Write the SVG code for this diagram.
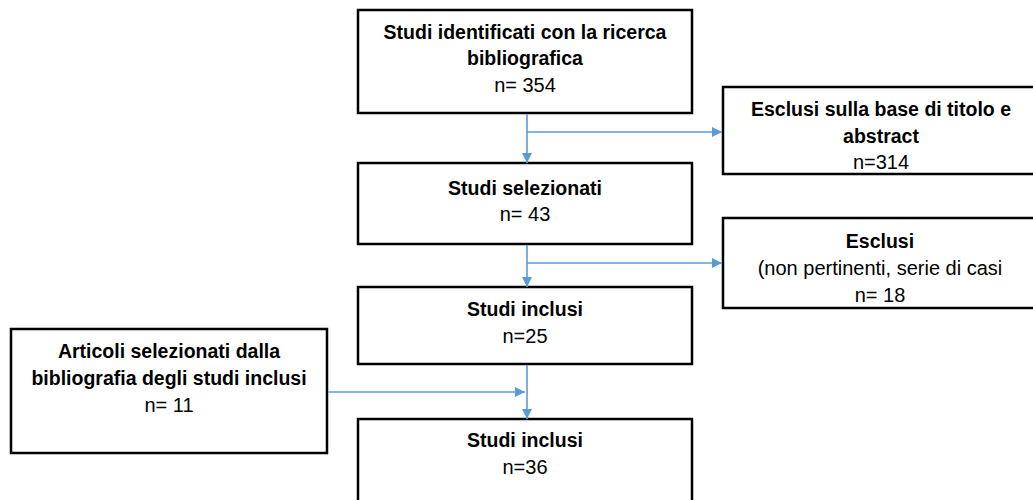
<svg xmlns="http://www.w3.org/2000/svg" width="1033" height="500" viewBox="0 0 1033 500">
  <style>
    .box { fill: #ffffff; stroke: #000000; stroke-width: 2.5; }
    .b { font-family: "Liberation Sans", Arial, sans-serif; font-weight: bold; font-size: 19.5px; fill: #000; text-anchor: middle; }
    .r { font-family: "Liberation Sans", Arial, sans-serif; font-size: 20px; fill: #000; text-anchor: middle; }
    .c { fill: none; stroke: #5B9BD5; stroke-width: 1.6; }
  </style>
  <defs>
    <marker id="ah" viewBox="0 0 10 10" refX="10" refY="5" markerWidth="10" markerHeight="10" markerUnits="userSpaceOnUse" orient="auto">
      <path d="M0,0 L10,5 L0,10 z" fill="#5B9BD5"/>
    </marker>
  </defs>
  <rect width="1033" height="500" fill="#ffffff"/>

  <g id="node-identificati">
    <rect class="box" x="358" y="10" width="334" height="103"/>
    <text class="b" x="525" y="39">Studi identificati con la ricerca</text>
    <text class="b" x="525" y="65">bibliografica</text>
    <text class="r" x="525" y="92">n= 354</text>
  </g>

  <g id="node-esclusi-titolo">
    <rect class="box" x="723" y="87" width="312" height="87"/>
    <text class="b" x="881" y="116">Esclusi sulla base di titolo e</text>
    <text class="b" x="881" y="143">abstract</text>
    <text class="r" x="881" y="169">n=314</text>
  </g>

  <g id="node-selezionati">
    <rect class="box" x="358" y="163" width="334" height="81"/>
    <text class="b" x="525" y="195">Studi selezionati</text>
    <text class="r" x="525" y="221">n= 43</text>
  </g>

  <g id="node-esclusi">
    <rect class="box" x="723" y="218" width="312" height="90"/>
    <text class="b" x="880" y="248">Esclusi</text>
    <text class="r" x="880" y="275">(non pertinenti, serie di casi</text>
    <text class="r" x="880" y="302">n= 18</text>
  </g>

  <g id="node-inclusi-1">
    <rect class="box" x="358" y="287" width="334" height="77"/>
    <text class="b" x="525" y="316">Studi inclusi</text>
    <text class="r" x="525" y="343">n=25</text>
  </g>

  <g id="node-articoli">
    <rect class="box" x="11" y="329" width="316" height="124"/>
    <text class="b" x="169" y="358">Articoli selezionati dalla</text>
    <text class="b" x="169" y="385">bibliografia degli studi inclusi</text>
    <text class="r" x="169" y="412">n= 11</text>
  </g>

  <g id="node-inclusi-2">
    <rect class="box" x="358" y="419" width="334" height="100"/>
    <text class="b" x="525" y="447">Studi inclusi</text>
    <text class="r" x="525" y="474">n=36</text>
  </g>

  <g id="connectors">
    <path class="c" d="M527,114 L527,163" marker-end="url(#ah)"/>
    <path class="c" d="M527,132 L722,132" marker-end="url(#ah)"/>
    <path class="c" d="M527,245 L527,287" marker-end="url(#ah)"/>
    <path class="c" d="M527,263 L722,263" marker-end="url(#ah)"/>
    <path class="c" d="M527,365 L527,419" marker-end="url(#ah)"/>
    <path class="c" d="M328,392 L525,392" marker-end="url(#ah)"/>
  </g>
</svg>
